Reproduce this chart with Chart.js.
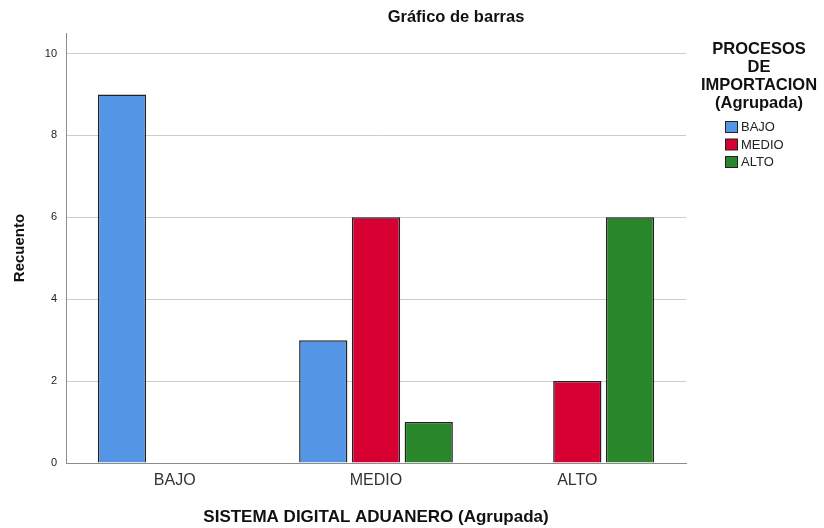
<!DOCTYPE html>
<html>
<head>
<meta charset="utf-8">
<script src="https://cdn.jsdelivr.net/npm/chart.js@4/dist/chart.umd.min.js"></script>
<style>
html,body{margin:0;padding:0;background:#fff;}
#wrap{width:824px;height:528px;}
</style>
</head>
<body>
<div id="wrap"><canvas id="c" width="824" height="528"></canvas></div>
<script>
const categories = ['BAJO', 'MEDIO', 'ALTO'];
const seriesNames = ['BAJO', 'MEDIO', 'ALTO'];
const bajoValues = [9, 3, null];
const medioValues = [null, 6, 2];
const altoValues = [null, 1, 6];
const yTicks = [0, 2, 4, 6, 8, 10];
const chartTitle = 'Gráfico de barras';
const legendTitle = ['PROCESOS', 'DE', 'IMPORTACION', '(Agrupada)'];
const xTitle = 'SISTEMA DIGITAL ADUANERO (Agrupada)';
const yTitle = 'Recuento';

const colors = ['#5595e6', '#d70032', '#29862b'];
const FONT = '"Liberation Sans", Arial, sans-serif';

function toPoints(arr) { return arr.map((v, i) => ({ x: i, y: v })); }

const overlay = {
  id: 'overlay',
  afterDraw(chart) {
    const ctx = chart.ctx;
    ctx.save();
    ctx.fillStyle = '#111';
    ctx.textAlign = 'center';
    ctx.textBaseline = 'middle';
    ctx.font = 'bold 16.5px ' + FONT;
    ctx.fillText(chartTitle, 456, 17);
    // legend title
    ctx.font = 'bold 16.5px ' + FONT;
    legendTitle.forEach((t, i) => ctx.fillText(t, 759, 49 + i * 18));
    // legend items
    ctx.textAlign = 'left';
    ctx.font = '13px ' + FONT;
    chart.data.datasets.forEach((ds, i) => {
      const y = 121.5 + i * 17.5;
      ctx.fillStyle = ds.backgroundColor;
      ctx.fillRect(725.5, y, 12, 11);
      ctx.strokeStyle = '#222';
      ctx.lineWidth = 1;
      ctx.strokeRect(725.5, y, 12, 11);
      ctx.fillStyle = '#222';
      ctx.fillText(ds.label, 741, y + 6);
    });
    ctx.restore();
  }
};

new Chart(document.getElementById('c'), {
  type: 'bar',
  data: {
    datasets: [
      { label: seriesNames[0], data: toPoints(bajoValues), backgroundColor: colors[0] },
      { label: seriesNames[1], data: toPoints(medioValues), backgroundColor: colors[1] },
      { label: seriesNames[2], data: toPoints(altoValues), backgroundColor: colors[2] }
    ]
  },
  options: {
    responsive: false,
    animation: false,
    devicePixelRatio: 1,
    layout: { padding: { left: 0, right: 138, top: 33, bottom: 0 } },
    datasets: {
      bar: {
        borderColor: '#222',
        borderWidth: 1.5,
        borderSkipped: 'bottom',
        categoryPercentage: 0.786,
        barPercentage: 0.915
      }
    },
    plugins: {
      legend: { display: false },
      title: { display: false },
      tooltip: { enabled: false }
    },
    scales: {
      x: {
        type: 'linear',
        offset: false,
        min: -0.54,
        max: 2.54,
        afterBuildTicks: s => { s.ticks = categories.map((c, i) => ({ value: i })); },
        afterFit: s => { s.height = 65; },
        grid: { display: false, drawTicks: false, offset: false },
        border: { display: true, color: '#8c8c8c', width: 1 },
        ticks: {
          callback: v => categories[v],
          font: { family: FONT, size: 16 },
          color: '#333',
          padding: 8,
          maxRotation: 0,
          autoSkip: false
        },
        title: {
          display: true,
          text: xTitle,
          font: { family: FONT, size: 17, weight: 'bold' },
          color: '#111',
          padding: { top: 0, bottom: 0 }
        }
      },
      y: {
        min: 0,
        max: 10.5,
        afterBuildTicks: s => { s.ticks = yTicks.map(v => ({ value: v })); },
        afterFit: s => { s.width = 66; },
        grid: { color: '#cccccc', drawTicks: false, lineWidth: 1 },
        border: { display: true, color: '#8c8c8c', width: 1 },
        ticks: {
          font: { family: FONT, size: 11 },
          color: '#222',
          padding: 9
        },
        title: {
          display: true,
          text: yTitle,
          font: { family: FONT, size: 15, weight: 'bold' },
          color: '#111',
          padding: { top: 11, bottom: 0 }
        }
      }
    }
  },
  plugins: [overlay]
});
</script>
</body>
</html>
